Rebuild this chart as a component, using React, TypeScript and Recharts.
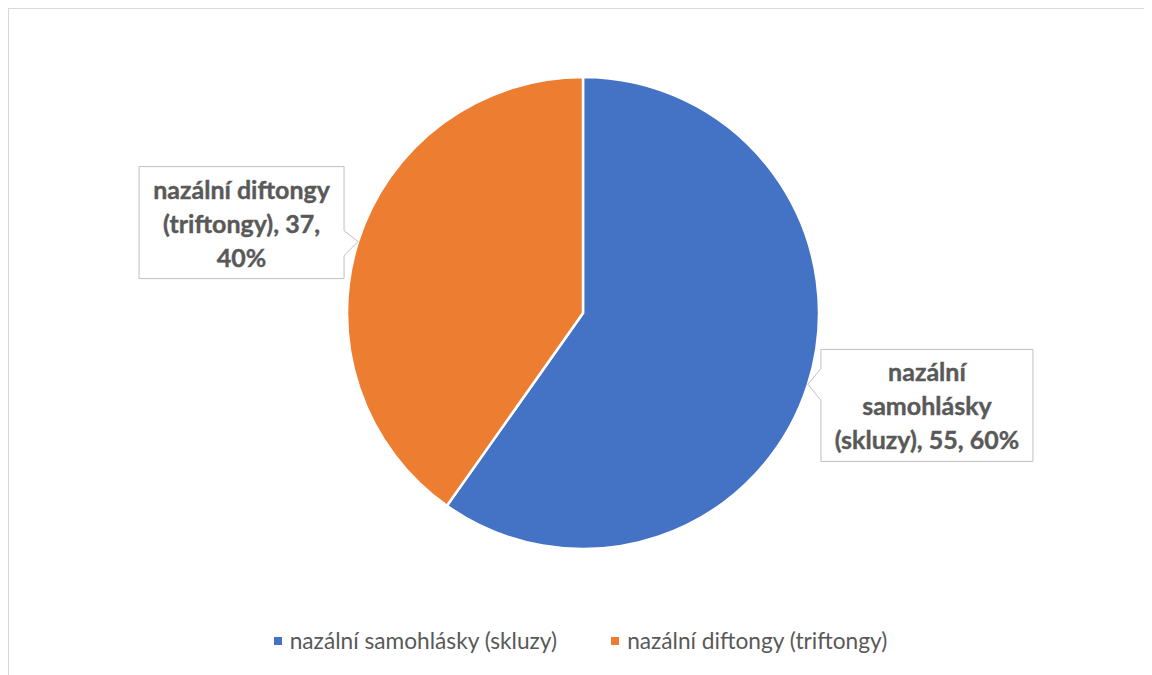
import React from 'react';
import { PieChart, Pie, Cell, Legend } from 'recharts';

const categories = ['nazální samohlásky (skluzy)', 'nazální diftongy (triftongy)'];
const counts = [55, 37];
const colors = ['#4472C4', '#ED7D31'];

const data = categories.map((name, i) => ({ name, value: counts[i] }));

const RADIAN = Math.PI / 180;
const FONT = 'Lato, "Noto Sans", sans-serif';
const TEXT = '#595959';

// callout box layout per slice (relative to the pointer tip on the pie edge)
const boxes = [
  { side: 'right', gap: 13, width: 212, above: 35, below: 77 },
  { side: 'left', gap: 14, width: 205, above: 75, below: 37 },
];

const wrap = (s: string, max: number) => {
  const out: string[] = [];
  let cur = '';
  s.split(' ').forEach((w) => {
    const next = cur ? cur + ' ' + w : w;
    if (next.length > max && cur) {
      out.push(cur);
      cur = w;
    } else cur = next;
  });
  if (cur) out.push(cur);
  return out;
};

const renderLabel = (props: any) => {
  const { cx, cy, midAngle, outerRadius, index, name, value, percent } = props;
  const tx = cx + outerRadius * Math.cos(-midAngle * RADIAN);
  const ty = cy + outerRadius * Math.sin(-midAngle * RADIAN);
  const b = boxes[index];
  const top = ty - b.above;
  const bottom = ty + b.below;
  let d: string;
  let left: number;
  if (b.side === 'right') {
    left = tx + b.gap;
    const right = left + b.width;
    d = `M${left},${top} L${right},${top} L${right},${bottom} L${left},${bottom} L${left},${ty + 16} L${tx},${ty} L${left},${ty - 16} Z`;
  } else {
    const right = tx - b.gap;
    left = right - b.width;
    d = `M${left},${top} L${right},${top} L${right},${ty - 11} L${tx},${ty} L${right},${ty + 14} L${right},${bottom} L${left},${bottom} Z`;
  }
  const lines = wrap(`${name}, ${value}, ${Math.round(percent * 100)}%`, 17);
  const mid = left + b.width / 2;
  return (
    <g key={`lbl-${index}`}>
      <path d={d} fill="#fff" stroke="#BFBFBF" strokeWidth={1} />
      {lines.map((l, i) => (
        <text
          key={i}
          x={mid}
          y={top + 32 + i * 34}
          textAnchor="middle"
          fill={TEXT}
          stroke={TEXT}
          strokeWidth={0.4}
          fontFamily={FONT}
          fontWeight={700}
          fontSize={25}
        >
          {l}
        </text>
      ))}
    </g>
  );
};

const renderLegend = () => (
  <div style={{ display: 'flex', justifyContent: 'center', fontFamily: FONT, fontSize: 22.7, color: TEXT }}>
    {data.map((d, i) => (
      <div key={d.name} style={{ display: 'flex', alignItems: 'center', marginLeft: i ? 54 : 0 }}>
        <span style={{ width: 8, height: 8, background: colors[i], display: 'inline-block', marginRight: 8 }} />
        <span>{d.name}</span>
      </div>
    ))}
  </div>
);

export default function App() {
  return (
    <div
      style={{
        width: 1143,
        height: 666,
        borderTop: '1px solid #D9D9D9',
        borderLeft: '1px solid #D9D9D9',
        background: '#fff',
      }}
    >
      <PieChart width={1143} height={666}>
        <Pie
          data={data}
          dataKey="value"
          nameKey="name"
          cx={569}
          cy={299}
          outerRadius={236}
          startAngle={90}
          endAngle={-270}
          stroke="#fff"
          strokeWidth={2.5}
          label={renderLabel}
          labelLine={false}
          isAnimationActive={false}
        >
          {data.map((d, i) => (
            <Cell key={d.name} fill={colors[i]} />
          ))}
        </Pie>
        <Legend content={renderLegend} wrapperStyle={{ top: 618, left: 0, width: 1143 }} />
      </PieChart>
    </div>
  );
}
